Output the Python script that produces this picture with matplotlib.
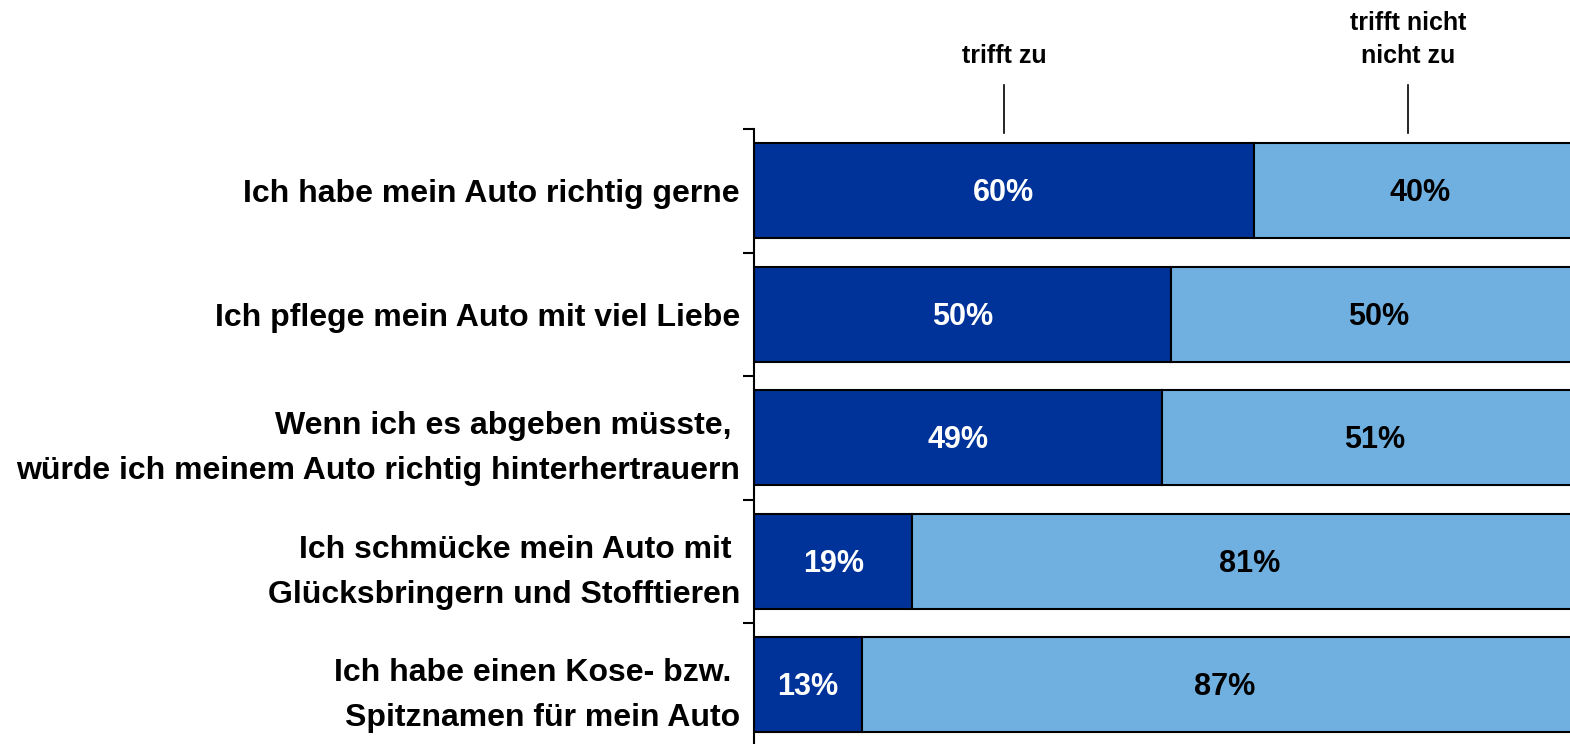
import matplotlib
matplotlib.use("Agg")
import matplotlib.pyplot as plt
import numpy as np
from matplotlib.transforms import blended_transform_factory

plt.rcParams['font.family'] = ['Liberation Sans', 'DejaVu Sans']
plt.rcParams['font.weight'] = 'bold'

# Daten
labels = ["Ich habe mein Auto richtig gerne",
          "Ich pflege mein Auto mit viel Liebe",
          "Wenn ich es abgeben müsste, \nwürde ich meinem Auto richtig hinterhertrauern",
          "Ich schmücke mein Auto mit \nGlücksbringern und Stofftieren",
          "Ich habe einen Kose- bzw. \nSpitznamen für mein Auto"]
trifft_zu = [60, 50, 49, 19, 13]
trifft_nicht = [40, 50, 51, 81, 87]
header_labels = ["trifft zu", "trifft nicht\nnicht zu"]
header_pos = [30, 78.5]

dark = "#003399"
light = "#6FB0E1"

fig = plt.figure(figsize=(15.7, 7.44), dpi=100)
ax = fig.add_axes([754 / 1570, -2.5 / 744, 833 / 1570, 617.5 / 744])

y = np.arange(len(labels))
h = 0.77
ax.barh(y, trifft_zu, height=h, color=dark, edgecolor="black", linewidth=1.5)
ax.barh(y, trifft_nicht, left=trifft_zu, height=h, color=light, edgecolor="black", linewidth=1.5)

# Prozentwerte
for i in range(len(labels)):
    a, b = trifft_zu[i], trifft_nicht[i]
    ax.text(a / 2, i + 0.02, f"{a}%", ha="center", va="center", color="white",
            fontsize=22, fontweight="bold")
    ax.text(a + b / 2, i + 0.02, f"{b}%", ha="center", va="center", color="black",
            fontsize=22, fontweight="bold")

ax.set_xlim(0, 100)
ax.set_ylim(len(labels) - 0.5, -0.5)
ax.set_yticks(y)
ax.set_yticklabels(labels, fontsize=23, fontweight="bold", ha="right")
for t in ax.get_yticklabels():
    t.set_linespacing(1.65)
ax.tick_params(axis="y", which="major", length=0, pad=10)
ax.set_yticks(np.arange(-0.5, len(labels), 1), minor=True)
ax.tick_params(axis="y", which="minor", length=8, width=1.5, direction="out")
ax.set_xticks([])
for s in ["top", "right", "bottom"]:
    ax.spines[s].set_visible(False)
ax.spines["left"].set_linewidth(1.5)

# Spaltenüberschriften
tr = blended_transform_factory(ax.transData, fig.transFigure)
for lab, xp in zip(header_labels, header_pos):
    ax.text(xp, 1 - 68 / 744, lab, transform=tr, ha="center", va="bottom",
            fontsize=18, fontweight="bold", linespacing=1.5, clip_on=False)
    ax.plot([xp, xp], [1 - 85 / 744, 1 - 133 / 744], transform=tr, color="black",
            linewidth=1.2, clip_on=False)

fig.savefig("out.png", dpi=100)
